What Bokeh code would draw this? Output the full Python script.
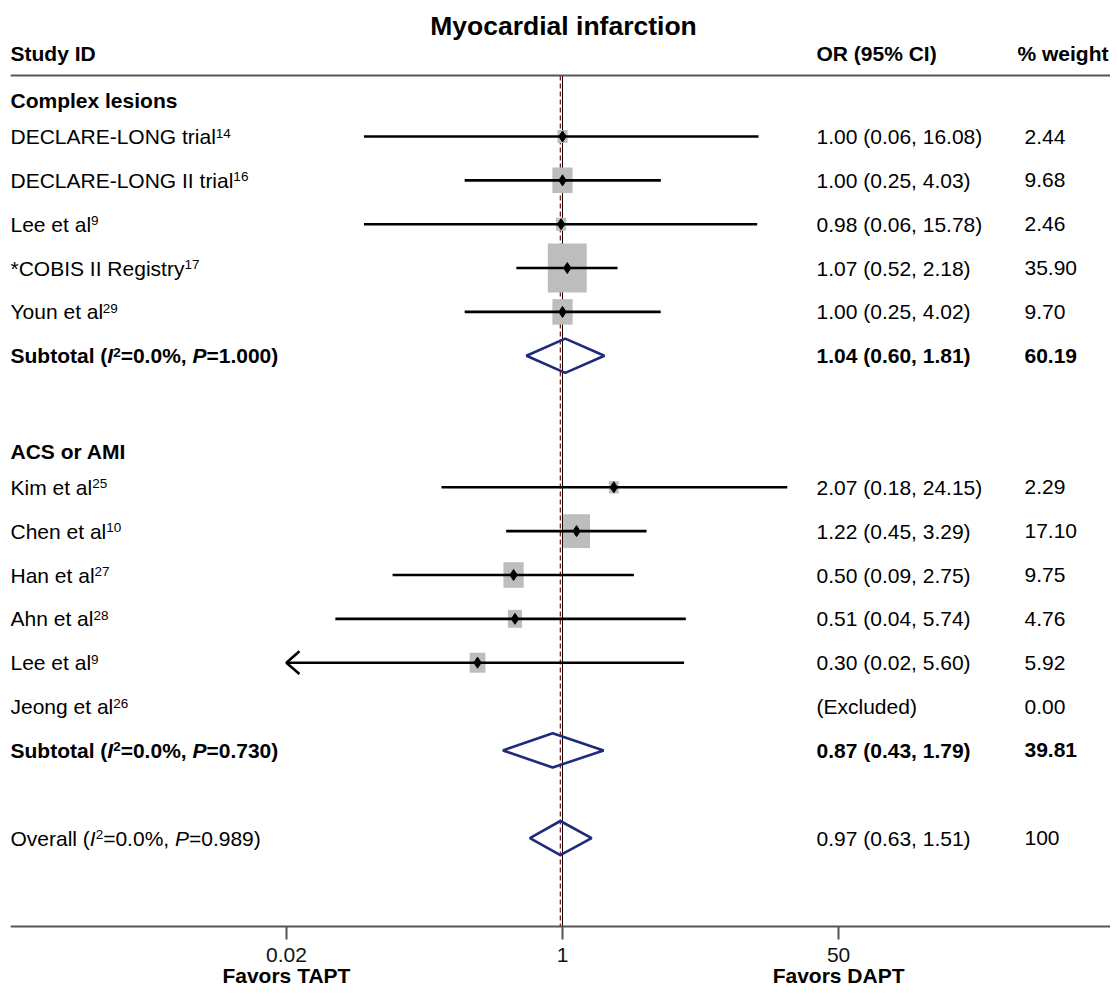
import math
from bokeh.plotting import figure
from bokeh.models import ColumnDataSource, Range1d, LinearScale, FixedTicker, Span
from bokeh.core.properties import value
from bokeh.embed import file_html
from bokeh.resources import INLINE

# ---------------- data ----------------
title_text = "Myocardial infarction"
col_headers = ["Study ID", "OR (95% CI)", "% weight"]
group_names = ["Complex lesions", "ACS or AMI"]

g1_labels = ["DECLARE-LONG trial", "DECLARE-LONG II trial", "Lee et al", "*COBIS II Registry", "Youn et al"]
g1_refs = ["14", "16", "9", "17", "29"]
g1_or = [1.00, 1.00, 0.98, 1.07, 1.00]
g1_lo = [0.06, 0.25, 0.06, 0.52, 0.25]
g1_hi = [16.08, 4.03, 15.78, 2.18, 4.02]
g1_wt = [2.44, 9.68, 2.46, 35.90, 9.70]

g2_labels = ["Kim et al", "Chen et al", "Han et al", "Ahn et al", "Lee et al", "Jeong et al"]
g2_refs = ["25", "10", "27", "28", "9", "26"]
g2_or = [2.07, 1.22, 0.50, 0.51, 0.30, None]
g2_lo = [0.18, 0.45, 0.09, 0.04, 0.02, None]
g2_hi = [24.15, 3.29, 2.75, 5.74, 5.60, None]
g2_wt = [2.29, 17.10, 9.75, 4.76, 5.92, 0.00]

sub_or = [1.04, 0.87]
sub_lo = [0.60, 0.43]
sub_hi = [1.81, 1.79]
sub_wt = [60.19, 39.81]
sub_i2 = ["0.0%", "0.0%"]
sub_p = ["1.000", "0.730"]

overall_or = 0.97
overall_lo = 0.63
overall_hi = 1.51
overall_wt = 100
overall_i2 = "0.0%"
overall_p = "0.989"

axis_ticks = [0.02, 1, 50]
favors_labels = ["Favors TAPT", "Favors DAPT"]

# ---------------- layout / style ----------------
W, H = 1110, 988
FONT = "Liberation Sans"
FS = 21
SUP = 13.5
X_LEFT, X_OR, X_WT, X_WT_HDR = 10, 816, 1024, 1017
PX_PER_DEC = 162.5
X_NULL_PX = 562
FRAME_L, FRAME_R = 10, W
FRAME_T, FRAME_B = 0, H
AXIS_Y = 926
ROW0_Y, ROW_H = 136, 43.85
NAVY = "#1f2b7a"
BOX = "#bdbdbd"


def row_of(img_y):
    return (img_y - ROW0_Y) / ROW_H


# Arial-compatible advance widths (per 1000 em)
REG = {' ': 278, '(': 333, ')': 333, '*': 389, ',': 278, '-': 333, '.': 278, '%': 889, '=': 584,
       'A': 667, 'B': 667, 'C': 722, 'D': 722, 'E': 667, 'F': 611, 'G': 778, 'H': 722, 'I': 278,
       'J': 500, 'K': 667, 'L': 556, 'M': 833, 'N': 722, 'O': 778, 'P': 667, 'R': 722, 'S': 667,
       'T': 611, 'Y': 667, 'a': 556, 'b': 556, 'c': 500, 'd': 556, 'e': 556, 'f': 278, 'g': 556,
       'h': 556, 'i': 222, 'j': 222, 'k': 500, 'l': 222, 'm': 833, 'n': 556, 'o': 556, 'p': 556,
       'r': 333, 's': 500, 't': 278, 'u': 556, 'v': 500, 'w': 722, 'y': 500}
BOLD = {' ': 278, '(': 333, ')': 333, ',': 278, '.': 278, '%': 889, '=': 584, '-': 333,
        'A': 722, 'C': 722, 'D': 722, 'F': 611, 'I': 278, 'M': 833, 'O': 778, 'P': 667, 'S': 667,
        'T': 611, 'a': 556, 'b': 611, 'c': 556, 'e': 556, 'g': 611, 'h': 611, 'i': 278, 'l': 278,
        'n': 611, 'o': 611, 'r': 389, 's': 556, 't': 333, 'u': 611, 'v': 556, 'w': 778, 'x': 556,
        'y': 556}
KERN = {("Y", "o"): -111}


def text_width(s, style, size):
    table = BOLD if "bold" in style else REG
    units = sum((556 if ch.isdigit() else table.get(ch, 556)) for ch in s)
    units += sum(KERN.get((a, b), 0) for a, b in zip(s, s[1:]))
    return units * size / 1000.0


# ---------------- rows ----------------
groups = [
    (group_names[0], g1_labels, g1_refs, g1_or, g1_lo, g1_hi, g1_wt),
    (group_names[1], g2_labels, g2_refs, g2_or, g2_lo, g2_hi, g2_wt),
]

T = dict(x=[], y=[], text=[], style=[], size=[], dy=[])


def add_text(x, y, s, style="normal", size=FS, dy=0.0):
    T["x"].append(x); T["y"].append(y); T["text"].append(s)
    T["style"].append(style); T["size"].append(f"{size}px"); T["dy"].append(dy)


def add_rich(x, y, pieces):
    for s, style, sup in pieces:
        if sup:
            add_text(x, y, s, style, SUP, -3.5)
            x += text_width(s, style, SUP)
        else:
            add_text(x, y, s, style, FS, 0.0)
            x += text_width(s, style, FS)


def fmt_ci(o, l, h):
    return f"{o:.2f} ({l:.2f}, {h:.2f})"


st = dict(or_=[], lo=[], hi=[], row=[], bw=[], bh=[])
arrows_xs, arrows_ys = [], []
dia_xs, dia_ys = [], []
clip_lo, clip_hi = min(axis_ticks), max(axis_ticks)
DIA_HALF = 0.39

r = -1
for gi, (gname, labels, refs, ors, los, his, wts) in enumerate(groups):
    add_text(X_LEFT, r + 0.19, gname, "bold")
    r += 1
    for lab, ref, o, l, h, w in zip(labels, refs, ors, los, his, wts):
        add_rich(X_LEFT, r, [(lab, "normal", False), (ref, "normal", True)])
        if o is None:
            add_text(X_OR, r, "(Excluded)")
        else:
            add_text(X_OR, r, fmt_ci(o, l, h))
            lo_c = max(l, clip_lo)
            st["or_"].append(o); st["lo"].append(lo_c); st["hi"].append(min(h, clip_hi))
            st["row"].append(r)
            st["bw"].append(6.5 * math.sqrt(w)); st["bh"].append(8.2 * math.sqrt(w))
            if l <= clip_lo:
                arrows_xs.append([lo_c * 10 ** 0.08, lo_c, lo_c * 10 ** 0.08])
                arrows_ys.append([r - 0.26, r, r + 0.26])
        add_text(X_WT, r, f"{w:.2f}")
        r += 1
    add_rich(X_LEFT, r, [("Subtotal (", "bold", False), ("I", "bold italic", False), ("2", "bold", True),
                         ("=" + sub_i2[gi] + ", ", "bold", False), ("P", "bold italic", False),
                         ("=" + sub_p[gi] + ")", "bold", False)])
    add_text(X_OR, r, fmt_ci(sub_or[gi], sub_lo[gi], sub_hi[gi]), "bold")
    add_text(X_WT, r, f"{sub_wt[gi]:.2f}", "bold")
    dia_xs.append([sub_lo[gi], sub_or[gi], sub_hi[gi], sub_or[gi]])
    dia_ys.append([r, r - DIA_HALF, r, r + DIA_HALF])
    r += 2

add_rich(X_LEFT, r, [("Overall (", "normal", False), ("I", "italic", False), ("2", "normal", True),
                     ("=" + overall_i2 + ", ", "normal", False), ("P", "italic", False),
                     ("=" + overall_p + ")", "normal", False)])
add_text(X_OR, r, fmt_ci(overall_or, overall_lo, overall_hi))
add_text(X_WT, r, f"{overall_wt}")
dia_xs.append([overall_lo, overall_or, overall_hi, overall_or])
dia_ys.append([r, r - DIA_HALF, r, r + DIA_HALF])

# headers
hdr_row = row_of(53)
add_text(X_LEFT, hdr_row, col_headers[0], "bold")
add_text(X_OR, hdr_row, col_headers[1], "bold")
add_text(X_WT_HDR, hdr_row, col_headers[2], "bold")

# ---------------- figure ----------------
x_range = Range1d(10 ** ((FRAME_L - X_NULL_PX) / PX_PER_DEC), 10 ** ((FRAME_R - X_NULL_PX) / PX_PER_DEC))
y_range = Range1d(row_of(FRAME_B), row_of(FRAME_T))

p = figure(width=W, height=H, x_axis_type="log", x_range=x_range, y_range=y_range,
           output_backend="svg", toolbar_location=None, y_axis_location=None,
           min_border_left=FRAME_L, min_border_right=0, min_border_top=0, min_border_bottom=0)
p.extra_x_ranges = {"px": Range1d(FRAME_L, FRAME_R)}
p.extra_x_scales = {"px": LinearScale()}
p.xgrid.visible = False
p.ygrid.visible = False
p.outline_line_color = None
p.background_fill_color = "white"
p.border_fill_color = "white"

# bottom axis, pinned at the foot of the forest
ax = p.xaxis[0]
ax.fixed_location = row_of(AXIS_Y)
ax.ticker = FixedTicker(ticks=axis_ticks)
ax.major_label_overrides = {t: f"{t:g}" for t in axis_ticks}
ax.axis_line_color = "#555555"
ax.axis_line_width = 2
ax.major_tick_line_color = "#555555"
ax.major_tick_line_width = 2
ax.major_tick_out = 13
ax.major_tick_in = 0
ax.minor_tick_line_color = None
ax.major_label_standoff = 8
ax.major_label_text_font = FONT
ax.major_label_text_font_size = "21px"
ax.major_label_text_color = "#111111"

# "Favors" captions under the outer ticks
p.text(x=[axis_ticks[0], axis_ticks[-1]], y=[row_of(975)] * 2, text=favors_labels,
       text_font=value(FONT), text_font_size="21px", text_font_style="bold",
       text_align="center", text_baseline="middle", text_color="#000000")

# header rule
p.add_layout(Span(location=row_of(75), dimension="width", line_color="#555555", line_width=2))

# reference lines
top_row, bot_row = row_of(75), row_of(AXIS_Y)
p.segment(x0=[1], y0=[top_row], x1=[1], y1=[bot_row], line_color="#000000", line_width=1)
p.segment(x0=[overall_or], y0=[top_row], x1=[overall_or], y1=[bot_row],
          line_color="#8b1a1a", line_width=1.3, line_dash="5 3")

src = ColumnDataSource(st)
p.rect(x="or_", y="row", width="bw", height="bh", width_units="screen", height_units="screen",
       source=src, fill_color=BOX, line_color=None)
p.segment(x0="lo", y0="row", x1="hi", y1="row", source=src, line_color="#000000", line_width=2.6)
p.multi_line(xs=arrows_xs, ys=arrows_ys, line_color="#000000", line_width=2.6)
p.scatter(x="or_", y="row", source=src, marker="diamond", size=11, fill_color="#000000", line_color="#000000")

p.patches(xs=dia_xs, ys=dia_ys, fill_color=None, line_color=NAVY, line_width=2.6)

# texts
tsrc = ColumnDataSource(T)
p.text(x="x", y="y", text="text", source=tsrc, x_range_name="px",
       text_font=value(FONT), text_font_size="size", text_font_style="style",
       y_offset="dy", text_baseline="middle", text_align="left", text_color="#000000")

p.text(x=[563], y=[row_of(25.5)], text=[title_text], x_range_name="px",
       text_font=value(FONT), text_font_size="26.5px", text_font_style="bold",
       text_baseline="middle", text_align="center", text_color="#000000")

open("out.html", "w").write(file_html(p, INLINE))
